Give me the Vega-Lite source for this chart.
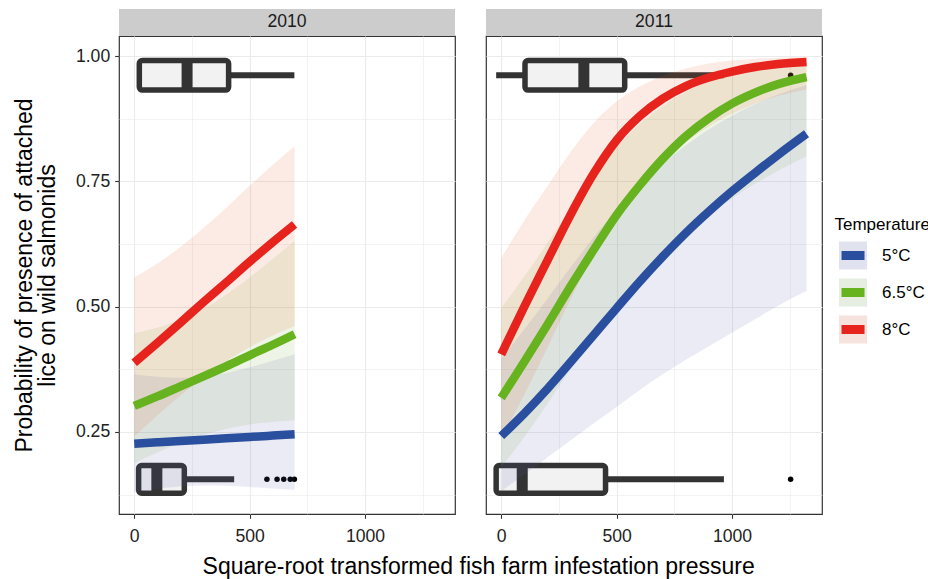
{
  "$schema": "https://vega.github.io/schema/vega-lite/v6.json",
  "padding": {"left": 12, "top": 9, "right": 5, "bottom": 5},
  "datasets": {
    "boxes": [
      {"year": "2010", "ymid": 0.9617, "ylo": 0.932, "yhi": 0.991, "wlo": 22, "q1": 22, "med": 229, "q3": 409, "whi": 694},
      {"year": "2010", "ymid": 0.1555, "ylo": 0.128, "yhi": 0.183, "wlo": 19, "q1": 19, "med": 98, "q3": 217, "whi": 433},
      {"year": "2011", "ymid": 0.9617, "ylo": 0.932, "yhi": 0.991, "wlo": -22, "q1": 103, "med": 358, "q3": 535, "whi": 965},
      {"year": "2011", "ymid": 0.1555, "ylo": 0.128, "yhi": 0.183, "wlo": -22, "q1": -22, "med": 91, "q3": 452, "whi": 965}
    ],
    "outliers": [
      {"year": "2010", "v": 575, "y": 0.1555},
      {"year": "2010", "v": 619, "y": 0.1555},
      {"year": "2010", "v": 648, "y": 0.1555},
      {"year": "2010", "v": 676, "y": 0.1555},
      {"year": "2010", "v": 694, "y": 0.1555},
      {"year": "2011", "v": 1254, "y": 0.9617},
      {"year": "2011", "v": 1254, "y": 0.1555}
    ],
    "fits": [
      {"year": "2010", "temp": "5°C", "v": 0, "fit": 0.2266, "lo": 0.1298, "hi": 0.365},
      {"year": "2010", "temp": "5°C", "v": 100, "fit": 0.2293, "lo": 0.1367, "hi": 0.36},
      {"year": "2010", "temp": "5°C", "v": 200, "fit": 0.232, "lo": 0.1415, "hi": 0.358},
      {"year": "2010", "temp": "5°C", "v": 300, "fit": 0.2347, "lo": 0.1433, "hi": 0.3605},
      {"year": "2010", "temp": "5°C", "v": 400, "fit": 0.2374, "lo": 0.1427, "hi": 0.3675},
      {"year": "2010", "temp": "5°C", "v": 500, "fit": 0.2401, "lo": 0.1403, "hi": 0.379},
      {"year": "2010", "temp": "5°C", "v": 600, "fit": 0.2428, "lo": 0.1373, "hi": 0.392},
      {"year": "2010", "temp": "5°C", "v": 695, "fit": 0.2454, "lo": 0.1346, "hi": 0.405},
      {"year": "2010", "temp": "6.5°C", "v": 0, "fit": 0.302, "lo": 0.1877, "hi": 0.4475},
      {"year": "2010", "temp": "6.5°C", "v": 100, "fit": 0.321, "lo": 0.209, "hi": 0.458},
      {"year": "2010", "temp": "6.5°C", "v": 200, "fit": 0.341, "lo": 0.228, "hi": 0.4745},
      {"year": "2010", "temp": "6.5°C", "v": 300, "fit": 0.361, "lo": 0.244, "hi": 0.4965},
      {"year": "2010", "temp": "6.5°C", "v": 400, "fit": 0.3815, "lo": 0.2565, "hi": 0.5245},
      {"year": "2010", "temp": "6.5°C", "v": 500, "fit": 0.403, "lo": 0.265, "hi": 0.558},
      {"year": "2010", "temp": "6.5°C", "v": 600, "fit": 0.424, "lo": 0.27, "hi": 0.595},
      {"year": "2010", "temp": "6.5°C", "v": 695, "fit": 0.445, "lo": 0.2727, "hi": 0.6316},
      {"year": "2010", "temp": "8°C", "v": 0, "fit": 0.388, "lo": 0.241, "hi": 0.558},
      {"year": "2010", "temp": "8°C", "v": 100, "fit": 0.4275, "lo": 0.283, "hi": 0.586},
      {"year": "2010", "temp": "8°C", "v": 200, "fit": 0.468, "lo": 0.3226, "hi": 0.619},
      {"year": "2010", "temp": "8°C", "v": 300, "fit": 0.509, "lo": 0.359, "hi": 0.657},
      {"year": "2010", "temp": "8°C", "v": 400, "fit": 0.549, "lo": 0.3915, "hi": 0.698},
      {"year": "2010", "temp": "8°C", "v": 500, "fit": 0.5895, "lo": 0.419, "hi": 0.741},
      {"year": "2010", "temp": "8°C", "v": 600, "fit": 0.6285, "lo": 0.4425, "hi": 0.783},
      {"year": "2010", "temp": "8°C", "v": 695, "fit": 0.664, "lo": 0.4615, "hi": 0.82},
      {"year": "2011", "temp": "5°C", "v": 0, "fit": 0.242, "lo": 0.132, "hi": 0.396},
      {"year": "2011", "temp": "5°C", "v": 100, "fit": 0.287, "lo": 0.165, "hi": 0.455},
      {"year": "2011", "temp": "5°C", "v": 200, "fit": 0.336, "lo": 0.199, "hi": 0.516},
      {"year": "2011", "temp": "5°C", "v": 300, "fit": 0.389, "lo": 0.233, "hi": 0.578},
      {"year": "2011", "temp": "5°C", "v": 400, "fit": 0.443, "lo": 0.267, "hi": 0.638},
      {"year": "2011", "temp": "5°C", "v": 500, "fit": 0.497, "lo": 0.3, "hi": 0.693},
      {"year": "2011", "temp": "5°C", "v": 600, "fit": 0.55, "lo": 0.334, "hi": 0.742},
      {"year": "2011", "temp": "5°C", "v": 700, "fit": 0.6, "lo": 0.365, "hi": 0.785},
      {"year": "2011", "temp": "5°C", "v": 800, "fit": 0.647, "lo": 0.394, "hi": 0.822},
      {"year": "2011", "temp": "5°C", "v": 900, "fit": 0.69, "lo": 0.421, "hi": 0.854},
      {"year": "2011", "temp": "5°C", "v": 1000, "fit": 0.73, "lo": 0.448, "hi": 0.881},
      {"year": "2011", "temp": "5°C", "v": 1100, "fit": 0.767, "lo": 0.475, "hi": 0.904},
      {"year": "2011", "temp": "5°C", "v": 1200, "fit": 0.803, "lo": 0.502, "hi": 0.923},
      {"year": "2011", "temp": "5°C", "v": 1323, "fit": 0.845, "lo": 0.531, "hi": 0.942},
      {"year": "2011", "temp": "6.5°C", "v": 0, "fit": 0.318, "lo": 0.18, "hi": 0.497},
      {"year": "2011", "temp": "6.5°C", "v": 100, "fit": 0.39, "lo": 0.24, "hi": 0.56},
      {"year": "2011", "temp": "6.5°C", "v": 200, "fit": 0.464, "lo": 0.306, "hi": 0.627},
      {"year": "2011", "temp": "6.5°C", "v": 300, "fit": 0.54, "lo": 0.375, "hi": 0.695},
      {"year": "2011", "temp": "6.5°C", "v": 400, "fit": 0.613, "lo": 0.443, "hi": 0.76},
      {"year": "2011", "temp": "6.5°C", "v": 500, "fit": 0.683, "lo": 0.505, "hi": 0.818},
      {"year": "2011", "temp": "6.5°C", "v": 600, "fit": 0.742, "lo": 0.56, "hi": 0.864},
      {"year": "2011", "temp": "6.5°C", "v": 700, "fit": 0.795, "lo": 0.607, "hi": 0.9},
      {"year": "2011", "temp": "6.5°C", "v": 800, "fit": 0.84, "lo": 0.648, "hi": 0.928},
      {"year": "2011", "temp": "6.5°C", "v": 900, "fit": 0.876, "lo": 0.684, "hi": 0.949},
      {"year": "2011", "temp": "6.5°C", "v": 1000, "fit": 0.905, "lo": 0.716, "hi": 0.964},
      {"year": "2011", "temp": "6.5°C", "v": 1100, "fit": 0.927, "lo": 0.745, "hi": 0.975},
      {"year": "2011", "temp": "6.5°C", "v": 1200, "fit": 0.944, "lo": 0.771, "hi": 0.983},
      {"year": "2011", "temp": "6.5°C", "v": 1323, "fit": 0.958, "lo": 0.8, "hi": 0.99},
      {"year": "2011", "temp": "8°C", "v": 0, "fit": 0.405, "lo": 0.238, "hi": 0.597},
      {"year": "2011", "temp": "8°C", "v": 100, "fit": 0.5, "lo": 0.325, "hi": 0.672},
      {"year": "2011", "temp": "8°C", "v": 200, "fit": 0.592, "lo": 0.418, "hi": 0.74},
      {"year": "2011", "temp": "8°C", "v": 300, "fit": 0.683, "lo": 0.515, "hi": 0.808},
      {"year": "2011", "temp": "8°C", "v": 400, "fit": 0.765, "lo": 0.605, "hi": 0.866},
      {"year": "2011", "temp": "8°C", "v": 500, "fit": 0.832, "lo": 0.68, "hi": 0.909},
      {"year": "2011", "temp": "8°C", "v": 600, "fit": 0.88, "lo": 0.74, "hi": 0.939},
      {"year": "2011", "temp": "8°C", "v": 700, "fit": 0.915, "lo": 0.788, "hi": 0.96},
      {"year": "2011", "temp": "8°C", "v": 800, "fit": 0.94, "lo": 0.828, "hi": 0.975},
      {"year": "2011", "temp": "8°C", "v": 900, "fit": 0.957, "lo": 0.86, "hi": 0.985},
      {"year": "2011", "temp": "8°C", "v": 1000, "fit": 0.969, "lo": 0.885, "hi": 0.991},
      {"year": "2011", "temp": "8°C", "v": 1100, "fit": 0.978, "lo": 0.905, "hi": 0.9945},
      {"year": "2011", "temp": "8°C", "v": 1200, "fit": 0.984, "lo": 0.92, "hi": 0.9965},
      {"year": "2011", "temp": "8°C", "v": 1323, "fit": 0.988, "lo": 0.933, "hi": 0.998}
    ]
  },
  "title": {"text": "Square-root transformed fish farm infestation pressure", "orient": "bottom", "anchor": "middle", "frame": "bounds", "dx": 7, "fontSize": 23, "fontWeight": "normal", "font": "Liberation Sans", "color": "#000000", "offset": 10},
  "resolve": {"scale": {"color": "shared", "fill": "shared", "x": "independent", "y": "independent"}, "legend": {"color": "shared"}},
  "spacing": 27,
  "hconcat": [
    {
      "spacing": 0,
      "vconcat": [
        {"data": {"values": [{"yr": "2010"}]}, "width": 336, "height": 26, "view": {"fill": "#cccccc", "stroke": null},
         "mark": {"type": "text", "fontSize": 17.6, "color": "#1a1a1a", "font": "Liberation Sans"},
         "encoding": {"text": {"field": "yr", "type": "nominal"}}},
        {"width": 336, "height": 478,
         "layer": [
          {"data": {"name": "boxes"}, "transform": [{"filter": "datum.year == '2010'"}],
           "mark": {"type": "rule", "color": "#333333", "strokeWidth": 6},
           "encoding": {
             "x": {"field": "wlo", "type": "quantitative", "scale": {"domain": [-66, 1390], "nice": false, "zero": false},
                   "axis": {"title": null, "values": [0, 250, 500, 750, 1000, 1250], "format": "d", "labelExpr": "datum.value % 500 == 0 ? datum.label : ''", "tickOpacity": {"condition": {"test": "datum.value % 500 == 0", "value": 1}, "value": 0}, "gridWidth": {"condition": {"test": "datum.value % 500 == 0", "value": 1.1}, "value": 0.6}, "labelPadding": 9, "labelFlush": false, "labelOverlap": false}},
             "x2": {"field": "whi"},
             "y": {"field": "ymid", "type": "quantitative", "scale": {"domain": [0.0864, 1.0399], "nice": false, "zero": false},
                   "axis": {"title": ["Probability of presence of attached", "lice on wild salmonids"], "values": [0.125, 0.25, 0.375, 0.5, 0.625, 0.75, 0.875, 1], "format": ".2f", "labelExpr": "(datum.value * 4) % 1 == 0 ? datum.label : ''", "tickOpacity": {"condition": {"test": "(datum.value * 4) % 1 == 0", "value": 1}, "value": 0}, "gridWidth": {"condition": {"test": "(datum.value * 4) % 1 == 0", "value": 1.1}, "value": 0.6}, "labelPadding": 5, "labelFlush": false, "labelOverlap": false, "titleFontSize": 23, "titleFontWeight": "normal", "titleColor": "#000000", "titleFont": "Liberation Sans", "titlePadding": 16, "titleLineHeight": 23}}
           }},
          {"data": {"name": "boxes"}, "transform": [{"filter": "datum.year == '2010'"}],
           "mark": {"type": "rect", "fill": "#f2f2f2", "stroke": "#333333", "strokeWidth": 5.5, "cornerRadius": 3, "strokeJoin": "round"},
           "encoding": {"x": {"field": "q1", "type": "quantitative"}, "x2": {"field": "q3"}, "y": {"field": "ylo", "type": "quantitative"}, "y2": {"field": "yhi"}}},
          {"data": {"name": "boxes"}, "transform": [{"filter": "datum.year == '2010'"}],
           "mark": {"type": "rule", "color": "#333333", "strokeWidth": 11},
           "encoding": {"x": {"field": "med", "type": "quantitative"}, "y": {"field": "ylo", "type": "quantitative"}, "y2": {"field": "yhi"}}},
          {"data": {"name": "outliers"}, "transform": [{"filter": "datum.year == '2010'"}],
           "mark": {"type": "circle", "color": "#000000", "size": 30, "opacity": 1},
           "encoding": {"x": {"field": "v", "type": "quantitative"}, "y": {"field": "y", "type": "quantitative"}}},
          {"data": {"name": "fits"}, "transform": [{"filter": "datum.year == '2010'"}],
           "mark": {"type": "area", "fillOpacity": 0.12, "interpolate": "monotone"},
           "encoding": {"x": {"field": "v", "type": "quantitative"}, "y": {"field": "lo", "type": "quantitative", "stack": null}, "y2": {"field": "hi"},
             "fill": {"field": "temp", "type": "nominal", "scale": {"range": ["#5a5ab4", "#72ad2f", "#de5a1e"]}, "legend": null}}},
          {"data": {"name": "fits"}, "transform": [{"filter": "datum.year == '2010'"}],
           "mark": {"type": "line", "strokeWidth": 8.5, "interpolate": "monotone", "strokeCap": "butt"},
           "encoding": {"x": {"field": "v", "type": "quantitative"}, "y": {"field": "fit", "type": "quantitative"},
             "color": {"field": "temp", "type": "nominal", "scale": {"domain": ["5°C", "6.5°C", "8°C"], "range": ["#2b4f9f", "#66b21f", "#e7231e"]}, "legend": {"title": "Temperature", "orient": "none", "legendX": 715.5, "legendY": 208, "symbolType": "M-0.82,0H1V-1H-1V1H1V0Z", "symbolSize": 784, "symbolStrokeWidth": 9, "symbolDash": [23, 1000], "labelFontSize": 17, "titleFontSize": 17, "titleFontWeight": "normal", "labelOffset": 10.5, "rowPadding": -9, "padding": 0, "titlePadding": 3, "labelColor": "#000000", "titleColor": "#000000", "labelFont": "Liberation Sans", "titleFont": "Liberation Sans", "encoding": {"symbols": {"fill": {"condition": [{"test": "datum.value === '5°C'", "value": "#e1e2f0"}, {"test": "datum.value === '6.5°C'", "value": "#e6ede1"}], "value": "#f6e3dd"}, "fillOpacity": {"value": 1}, "strokeOpacity": {"value": 1}, "opacity": {"value": 1}, "strokeJoin": {"value": "round"}}}}}}}
         ]}
      ]
    },
    {
      "spacing": 0,
      "vconcat": [
        {"data": {"values": [{"yr": "2011"}]}, "width": 336, "height": 26, "view": {"fill": "#cccccc", "stroke": null},
         "mark": {"type": "text", "fontSize": 17.6, "color": "#1a1a1a", "font": "Liberation Sans"},
         "encoding": {"text": {"field": "yr", "type": "nominal"}}},
        {"width": 336, "height": 478,
         "layer": [
          {"data": {"name": "boxes"}, "transform": [{"filter": "datum.year == '2011'"}],
           "mark": {"type": "rule", "color": "#333333", "strokeWidth": 6},
           "encoding": {
             "x": {"field": "wlo", "type": "quantitative", "scale": {"domain": [-66, 1390], "nice": false, "zero": false},
                   "axis": {"title": null, "values": [0, 250, 500, 750, 1000, 1250], "format": "d", "labelExpr": "datum.value % 500 == 0 ? datum.label : ''", "tickOpacity": {"condition": {"test": "datum.value % 500 == 0", "value": 1}, "value": 0}, "gridWidth": {"condition": {"test": "datum.value % 500 == 0", "value": 1.1}, "value": 0.6}, "labelPadding": 9, "labelFlush": false, "labelOverlap": false}},
             "x2": {"field": "whi"},
             "y": {"field": "ymid", "type": "quantitative", "scale": {"domain": [0.0864, 1.0399], "nice": false, "zero": false},
                   "axis": {"title": null, "values": [0.125, 0.25, 0.375, 0.5, 0.625, 0.75, 0.875, 1], "labels": false, "ticks": false, "gridWidth": {"condition": {"test": "(datum.value * 4) % 1 == 0", "value": 1.1}, "value": 0.6}}}
           }},
          {"data": {"name": "boxes"}, "transform": [{"filter": "datum.year == '2011'"}],
           "mark": {"type": "rect", "fill": "#f2f2f2", "stroke": "#333333", "strokeWidth": 5.5, "cornerRadius": 3, "strokeJoin": "round"},
           "encoding": {"x": {"field": "q1", "type": "quantitative"}, "x2": {"field": "q3"}, "y": {"field": "ylo", "type": "quantitative"}, "y2": {"field": "yhi"}}},
          {"data": {"name": "boxes"}, "transform": [{"filter": "datum.year == '2011'"}],
           "mark": {"type": "rule", "color": "#333333", "strokeWidth": 11},
           "encoding": {"x": {"field": "med", "type": "quantitative"}, "y": {"field": "ylo", "type": "quantitative"}, "y2": {"field": "yhi"}}},
          {"data": {"name": "outliers"}, "transform": [{"filter": "datum.year == '2011'"}],
           "mark": {"type": "circle", "color": "#000000", "size": 30, "opacity": 1},
           "encoding": {"x": {"field": "v", "type": "quantitative"}, "y": {"field": "y", "type": "quantitative"}}},
          {"data": {"name": "fits"}, "transform": [{"filter": "datum.year == '2011'"}],
           "mark": {"type": "area", "fillOpacity": 0.12, "interpolate": "monotone"},
           "encoding": {"x": {"field": "v", "type": "quantitative"}, "y": {"field": "lo", "type": "quantitative", "stack": null}, "y2": {"field": "hi"},
             "fill": {"field": "temp", "type": "nominal", "scale": {"range": ["#5a5ab4", "#72ad2f", "#de5a1e"]}, "legend": null}}},
          {"data": {"name": "fits"}, "transform": [{"filter": "datum.year == '2011'"}],
           "mark": {"type": "line", "strokeWidth": 8.5, "interpolate": "monotone", "strokeCap": "butt"},
           "encoding": {"x": {"field": "v", "type": "quantitative"}, "y": {"field": "fit", "type": "quantitative"},
             "color": {"field": "temp", "type": "nominal", "scale": {"domain": ["5°C", "6.5°C", "8°C"], "range": ["#2b4f9f", "#66b21f", "#e7231e"]}, "legend": {"title": "Temperature", "orient": "none", "legendX": 715.5, "legendY": 208, "symbolType": "M-0.82,0H1V-1H-1V1H1V0Z", "symbolSize": 784, "symbolStrokeWidth": 9, "symbolDash": [23, 1000], "labelFontSize": 17, "titleFontSize": 17, "titleFontWeight": "normal", "labelOffset": 10.5, "rowPadding": -9, "padding": 0, "titlePadding": 3, "labelColor": "#000000", "titleColor": "#000000", "labelFont": "Liberation Sans", "titleFont": "Liberation Sans", "encoding": {"symbols": {"fill": {"condition": [{"test": "datum.value === '5°C'", "value": "#e1e2f0"}, {"test": "datum.value === '6.5°C'", "value": "#e6ede1"}], "value": "#f6e3dd"}, "fillOpacity": {"value": 1}, "strokeOpacity": {"value": 1}, "opacity": {"value": 1}, "strokeJoin": {"value": "round"}}}}}}}
         ]}
      ]
    }
  ],
  "config": {
    "font": "Liberation Sans",
    "view": {"stroke": "#333333", "strokeWidth": 1.2},
    "axis": {"gridColor": "#ebebeb", "domain": false, "minExtent": 0, "labelFont": "Liberation Sans", "labelFontSize": 17.6, "labelColor": "#222222", "tickColor": "#333333", "tickWidth": 1.1, "tickSize": 4.3}
  }
}
